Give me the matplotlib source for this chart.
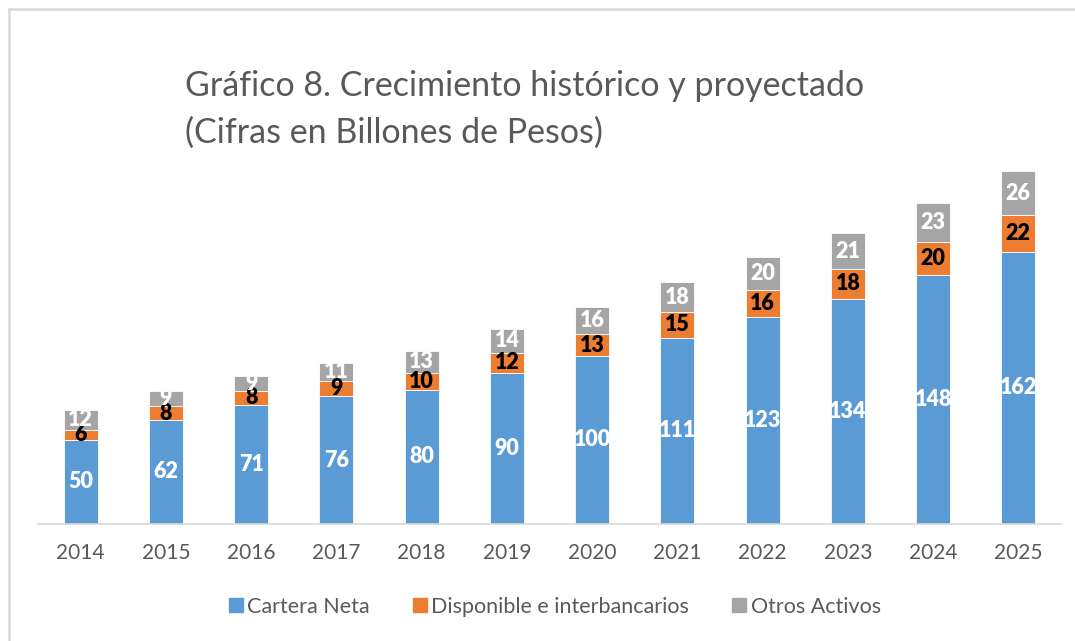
import matplotlib.pyplot as plt
import numpy as np
from matplotlib.lines import Line2D

plt.rcParams['font.family'] = ['Lato', 'DejaVu Sans']

years = ["2014", "2015", "2016", "2017", "2018", "2019",
         "2020", "2021", "2022", "2023", "2024", "2025"]
cartera = [50, 62, 71, 76, 80, 90, 100, 111, 123, 134, 148, 162]
disponible = [6, 8, 8, 9, 10, 12, 13, 15, 16, 18, 20, 22]
otros = [12, 9, 9, 11, 13, 14, 16, 18, 20, 21, 23, 26]

series = [("Cartera Neta", cartera, "#5B9BD5", "white"),
          ("Disponible e interbancarios", disponible, "#ED7D31", "black"),
          ("Otros Activos", otros, "#A5A5A5", "white")]

W, H = 1075, 641
fig = plt.figure(figsize=(W / 100, H / 100), dpi=100)
ax = fig.add_axes([38 / W, (H - 524) / H, (1061 - 38) / W, (524 - 104) / H])

x = np.arange(len(years))
bottom = np.zeros(len(years))
for name, vals, color, tcolor in series:
    vals = np.array(vals, dtype=float)
    ax.bar(x, vals, width=0.4, bottom=bottom, color=color,
           edgecolor="white", linewidth=0.6, label=name)
    for xi, b, v in zip(x, bottom, vals):
        ax.text(xi, b + v / 2, f"{v:.0f}", ha="center", va="center",
                color=tcolor, fontsize=15.5, fontweight="heavy")
    bottom += vals

ax.set_xlim(-0.5, len(years) - 0.5)
ax.set_ylim(0, 250)
ax.set_yticks([])
ax.set_xticks(x)
ax.set_xticklabels(years, fontsize=15, color="#595959")
ax.tick_params(axis="x", length=0, pad=14)
for s in ["top", "right", "left"]:
    ax.spines[s].set_visible(False)
ax.spines["bottom"].set_color("#D9D9D9")
ax.spines["bottom"].set_linewidth(1.2)

fig.text(185 / W, 1 - 86 / H, "Gráfico 8. Crecimiento histórico y proyectado",
         fontsize=24.5, color="#595959", va="center", ha="left")
fig.text(185 / W, 1 - 133 / H, "(Cifras en Billones de Pesos)",
         fontsize=24.5, color="#595959", va="center", ha="left")

handles = [Line2D([], [], marker="s", linestyle="none", markersize=10,
                  markerfacecolor=c, markeredgecolor=c) for _, _, c, _ in series]
fig.legend(handles, [s[0] for s in series], loc="center",
           bbox_to_anchor=(555 / W, 1 - 607 / H), ncol=3, frameon=False,
           fontsize=15.5, labelcolor="#595959", handletextpad=0.25,
           columnspacing=2.0, handlelength=0.6)

# chart border (left and top only visible)
fig.add_artist(Line2D([9 / W, 9 / W], [0, 1 - 9 / H], transform=fig.transFigure,
                      color="#D9D9D9", linewidth=1.8))
fig.add_artist(Line2D([9 / W, 1], [1 - 9 / H, 1 - 9 / H], transform=fig.transFigure,
                      color="#D9D9D9", linewidth=1.8))

fig.savefig("out.png", dpi=100)
